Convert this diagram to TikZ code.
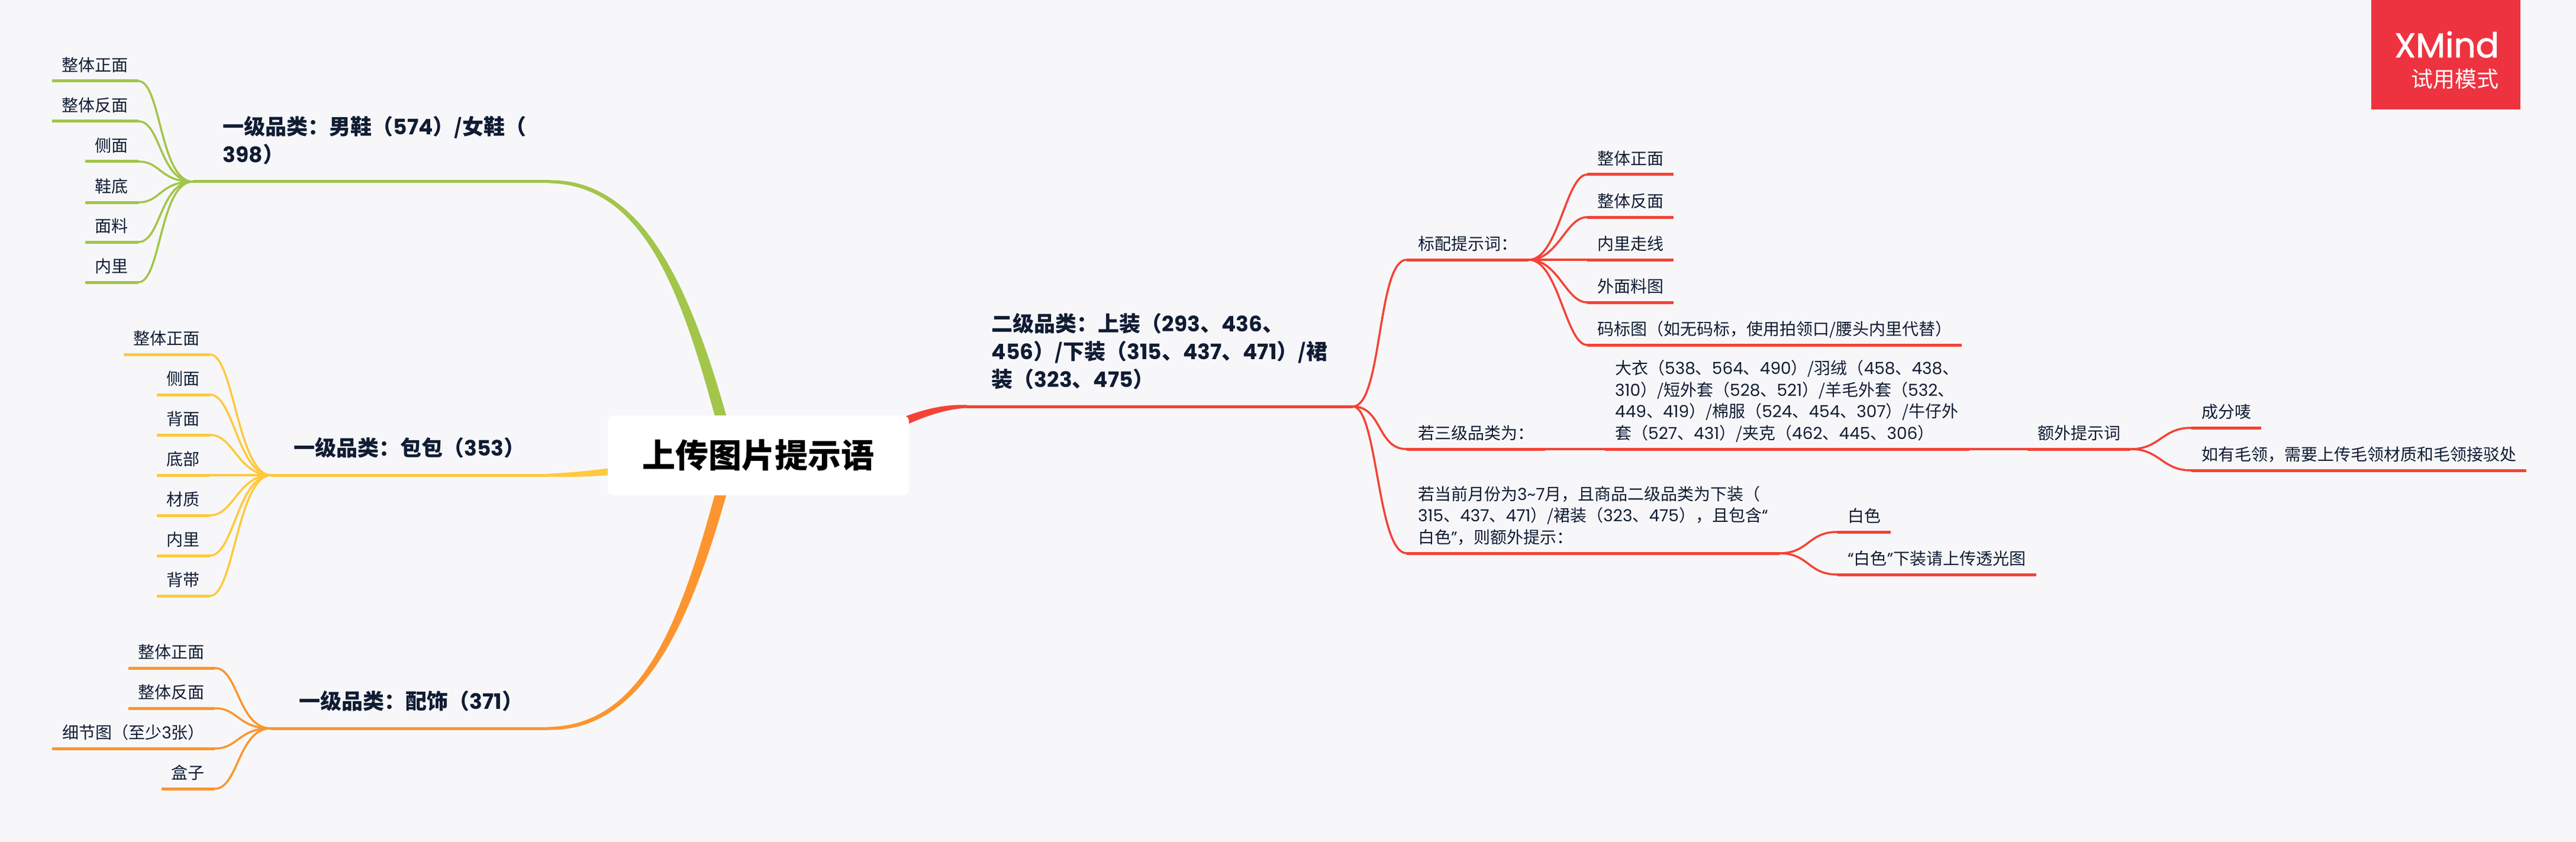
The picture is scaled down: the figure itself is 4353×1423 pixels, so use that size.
\documentclass[tikz,border=0pt]{standalone}
\usepackage{fontspec}
\usetikzlibrary{backgrounds}
\setmainfont{Noto Sans CJK SC}
\newfontfamily\numfont{Poppins}
\newfontfamily\brandfont{Poppins}[FakeBold=1.5]
\newcommand{\nb}[1]{{\numfont #1}}
\definecolor{paper}{HTML}{F7F7FA}
\definecolor{ink}{HTML}{0F1C33}
\definecolor{shoegreen}{HTML}{A2C54A}
\definecolor{bagyellow}{HTML}{FFC93C}
\definecolor{acorange}{HTML}{FC9530}
\definecolor{clothred}{HTML}{F44336}
\definecolor{xmindred}{HTML}{EE3340}
\tikzset{
  smalltext/.style={font=\fontsize{28pt}{36.5pt}\selectfont, text=ink, align=left, inner ysep=10pt, text depth=6.4pt},
  leafleft/.style={smalltext, anchor=south east, inner xsep=17pt},
  leafright/.style={smalltext, anchor=south west, inner xsep=17pt},
  midnode/.style={smalltext, anchor=south west, inner xsep=19pt},
  topic/.style={font=\fontsize{36pt}{47pt}\selectfont\bfseries, text=ink, align=left, inner xsep=0pt, inner ysep=24pt, text depth=8pt},
  rootnode/.style={font=\fontsize{56pt}{60pt}\selectfont\bfseries, text=black, fill=white, rounded corners=10pt, minimum width=509pt, minimum height=135pt, inner sep=0pt},
  rule/.style={line width=5pt},
  stem/.style={line width=3.5pt}
}
% tapered limb from a topic to the root
\newcommand{\limb}[7]{
  \fill[#1] ([yshift=2.5pt]#2) .. controls +(#4,-3) and +#5 .. ([#6]#3) -- ([#7]#3) .. controls +#5 and +(#4,3) .. ([yshift=-2.5pt]#2) -- cycle;
}
\begin{document}
\begin{tikzpicture}[x=1pt,y=-1pt]
  \useasboundingbox (0,0) rectangle (4353,1423);
  % Root and first level
  \node[rootnode] (root) at (1281.5,769.5) {上传图片提示语};
  \coordinate (rootl) at ([xshift=-46pt]root.center);
  \coordinate (rootr) at ([xshift=139pt]root.center);
  \node[topic, anchor=south east, text width=550pt, text depth=55pt] (shoes) at (927,307) {一级品类：男鞋（\nb{574}）/女鞋（\\\nb{398}）};
  \node[topic, anchor=south east, text width=430pt] (bags) at (927,803) {一级品类：包包（\nb{353}）};
  \node[topic, anchor=south east, text width=421pt] (acc) at (927,1231) {一级品类：配饰（\nb{371}）};
  \node[topic, anchor=south east, text width=610pt, text depth=102pt] (clothes) at (2286,687) {二级品类：上装（\nb{293}、\nb{436}、\\\nb{456}）/下装（\nb{315}、\nb{437}、\nb{471}）/裙\\装（\nb{323}、\nb{475}）};
  \coordinate (clothesin) at (1634,687);
  \begin{scope}[on background layer]
    \fill[paper] (0,0) rectangle (4353,1423);
    \limb{shoegreen}{shoes.south east}{rootl}{173}{(-65,-249)}{xshift=10pt}{xshift=-10pt}
    \limb{acorange}{acc.south east}{rootl}{173}{(-65,249)}{xshift=-10pt}{xshift=10pt}
    \limb{bagyellow}{bags.south east}{rootl}{73}{(-135,21)}{yshift=8pt}{yshift=-8pt}
    \limb{clothred}{clothesin}{rootr}{-64}{(80,-49)}{yshift=10pt}{yshift=-10pt}
  \end{scope}
  \draw[rule, clothred] (clothes.south east) -- (clothesin);
  % Shoes
  \coordinate (shoeshub) at (326,307);
  \draw[rule, shoegreen] (shoes.south east) -- (shoeshub);
  \foreach \i/\k/\lbl in {1/137/整体正面, 2/205/整体反面, 3/273/侧面, 4/342/鞋底, 5/409/面料, 6/477/内里} {
    \node[leafleft] (s\i) at (234,\k) {\lbl};
    \draw[rule, shoegreen] (s\i.south west) -- (s\i.south east);
    \draw[stem, shoegreen] (shoeshub) .. controls +(-56,0) and +(38,0) .. (s\i.south east);
  }
  % Bags
  \coordinate (bagshub) at (458,803);
  \draw[rule, bagyellow] (bags.south east) -- (bagshub);
  \foreach \i/\k/\lbl in {1/599/整体正面, 2/667/侧面, 3/735/背面, 4/803/底部, 5/871/材质, 6/939/内里, 7/1007/背带} {
    \node[leafleft] (b\i) at (355,\k) {\lbl};
    \draw[rule, bagyellow] (b\i.south west) -- (b\i.south east);
    \draw[stem, bagyellow] (bagshub) .. controls +(-56,0) and +(40,0) .. (b\i.south east);
  }
  % Accessories
  \coordinate (acchub) at (458,1231);
  \draw[rule, acorange] (acc.south east) -- (acchub);
  \foreach \i/\k/\lbl in {1/1129/整体正面, 2/1197/整体反面, 3/1265/细节图（至少\nb{3}张）, 4/1333/盒子} {
    \node[leafleft] (a\i) at (363,\k) {\lbl};
    \draw[rule, acorange] (a\i.south west) -- (a\i.south east);
    \draw[stem, acorange] (acchub) .. controls +(-56,0) and +(40,0) .. (a\i.south east);
  }
  % Clothes, second level
  \node[midnode] (std) at (2377,439) {标配提示词：};
  \node[midnode] (third) at (2377,759) {若三级品类为：};
  \node[midnode] (season) at (2377,935) {若当前月份为\nb{3\textasciitilde7}月，且商品二级品类为下装（\\\nb{315}、\nb{437}、\nb{471}）/裙装（\nb{323}、\nb{475}），且包含\nb{“}\\白色\nb{”}，则额外提示：};
  \foreach \target/\cx in {std/50, third/50, season/42} {
    \draw[rule, clothred] (\target.south west) -- (\target.south east);
    \draw[stem, clothred] (clothes.south east) .. controls +(\cx,0) and +(-50,0) .. (\target.south west);
  }
  % Standard views
  \foreach \i/\k/\lbl in {1/295/整体正面, 2/367/整体反面, 3/439/内里走线, 4/511/外面料图, 5/583/{码标图（如无码标，使用拍领口/腰头内里代替）}} {
    \node[leafright] (c\i) at (2682,\k) {\lbl};
    \draw[rule, clothred] (c\i.south west) -- (c\i.south east);
    \draw[stem, clothred] (std.south east) .. controls +(50,0) and +(-36,0) .. (c\i.south west);
  }
  % Third level list
  \node[leafright] (coat) at (2712,759) {大衣（\nb{538}、\nb{564}、\nb{490}）/羽绒（\nb{458}、\nb{438}、\\\nb{310}）/短外套（\nb{528}、\nb{521}）/羊毛外套（\nb{532}、\\\nb{449}、\nb{419}）/棉服（\nb{524}、\nb{454}、\nb{307}）/牛仔外\\套（\nb{527}、\nb{431}）/夹克（\nb{462}、\nb{445}、\nb{306}）};
  \node[leafright] (extra) at (3426,759) {额外提示词};
  \draw[stem, clothred] (third.south east) -- (coat.south west);
  \draw[stem, clothred] (coat.south east) -- (extra.south west);
  \draw[rule, clothred] (coat.south west) -- (coat.south east);
  \draw[rule, clothred] (extra.south west) -- (extra.south east);
  \node[leafright] (mark) at (3703,723) {成分唛};
  \node[leafright] (collar) at (3703,795) {如有毛领，需要上传毛领材质和毛领接驳处};
  \node[leafright] (white) at (3105,899) {白色};
  \node[leafright] (light) at (3105,971) {\nb{“}白色\nb{”}下装请上传透光图};
  \foreach \source/\target in {extra/mark, extra/collar, season/white, season/light} {
    \draw[rule, clothred] (\target.south west) -- (\target.south east);
    \draw[stem, clothred] (\source.south east) .. controls +(50,0) and +(-50,0) .. (\target.south west);
  }
  % Trial badge
  \node[fill=xmindred, anchor=north west, minimum width=252pt, minimum height=185pt, inner sep=0pt] (badge) at (4007,0) {};
  \node[font=\brandfont\fontsize{58pt}{60pt}\selectfont, text=white, anchor=base east, inner sep=0pt] (brand) at (4223,97) {XMind};
  \node[font=\fontsize{37pt}{40pt}\selectfont, text=white, anchor=base east, inner sep=0pt] (trial) at (4223,148) {试用模式};
\end{tikzpicture}
\end{document}
